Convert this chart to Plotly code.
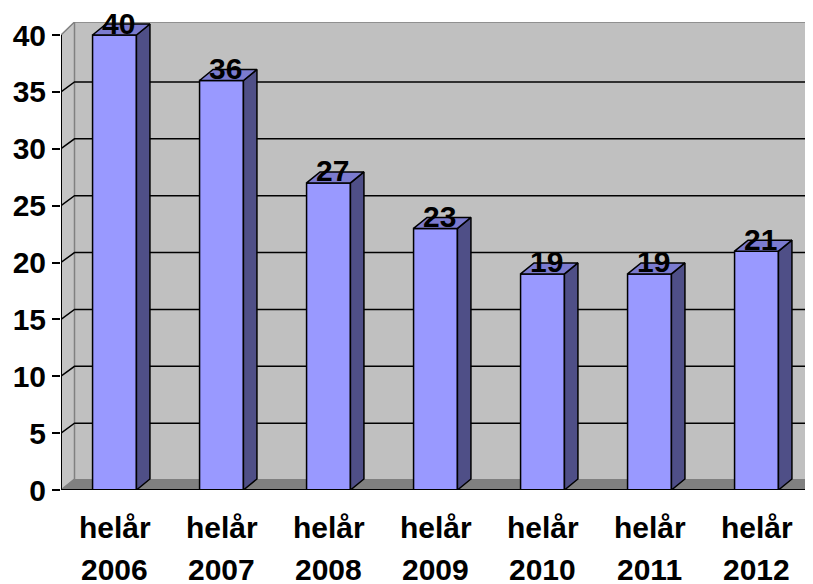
import plotly.graph_objects as go

categories = ["helår 2006", "helår 2007", "helår 2008", "helår 2009", "helår 2010", "helår 2011", "helår 2012"]
values = [40, 36, 27, 23, 19, 19, 21]
y_ticks = [0, 5, 10, 15, 20, 25, 30, 35, 40]

# page has an 8px body margin, so the figure is offset by 8px
W, H = 805, 586
L, T, B = 53, 14, 104
XPX = 107.0
YPX = 11.375
XMIN, XMAX = -0.5, -0.5 + (W - L) / XPX
YMAX = 40 + 13 / YPX
DX = 13.5 / XPX      # depth offset (x units)
DY = 11.0 / YPX      # depth offset (y units)
BW = 0.41            # bar width

FONT = "Arial, Liberation Sans, sans-serif"
FS = 30
n = len(values)
xs = list(range(n))

fig = go.Figure()

shapes = []
shapes.append(dict(type="rect", layer="below", x0=XMIN + DX, x1=XMAX, y0=DY, y1=YMAX,
                   fillcolor="#C0C0C0", line=dict(width=0)))
shapes.append(dict(type="path", layer="below",
                   path=f"M {XMIN},0 L {XMIN+DX},{DY} L {XMIN+DX},{YMAX} L {XMIN},40 Z",
                   fillcolor="#C4C4C4", line=dict(color="#808080", width=1.5)))
shapes.append(dict(type="path", layer="below",
                   path=f"M {XMIN},0 L {XMAX},0 L {XMAX},{DY} L {XMIN+DX},{DY} Z",
                   fillcolor="#808080", line=dict(width=0)))
shapes.append(dict(type="line", layer="below", x0=XMIN + DX, x1=XMAX, y0=YMAX, y1=YMAX,
                   line=dict(color="#808080", width=1.5)))
for v in y_ticks[1:-1]:
    shapes.append(dict(type="path", layer="below",
                       path=f"M {XMIN},{v} L {XMIN+DX},{v+DY*0.9} L {XMAX},{v+DY*0.9}",
                       line=dict(color="black", width=1.5)))
shapes.append(dict(type="line", layer="above", x0=XMIN, x1=XMIN, y0=0, y1=40,
                   line=dict(color="black", width=2)))
shapes.append(dict(type="line", layer="above", x0=XMIN, x1=XMAX, y0=0, y1=0,
                   line=dict(color="black", width=2)))
for k in range(n + 1):
    shapes.append(dict(type="line", layer="above", x0=k - 0.5, x1=k - 0.5,
                       ysizemode="pixel", yanchor=0, y0=0, y1=-8,
                       line=dict(color="black", width=2)))

fig.add_trace(go.Bar(x=xs, y=values, width=BW, marker=dict(color="#9999FF",
                     line=dict(color="black", width=1.5)), hoverinfo="skip"))

sx, sy, tx, ty = [], [], [], []
for i, v in zip(xs, values):
    r = i + BW / 2
    l = i - BW / 2
    sx += [r, r + DX, r + DX, r, r, None]
    sy += [0, DY, v + DY, v, 0, None]
    tx += [l, l + DX, r + DX, r, l, None]
    ty += [v, v + DY, v + DY, v, v, None]
fig.add_trace(go.Scatter(x=sx, y=sy, mode="lines", fill="toself", fillcolor="#4F4F87",
                         line=dict(color="black", width=1.5), hoverinfo="skip"))
fig.add_trace(go.Scatter(x=tx, y=ty, mode="lines", fill="toself", fillcolor="#7B7BCF",
                         line=dict(color="black", width=1.5), hoverinfo="skip"))

annotations = []
for i, v in zip(xs, values):
    annotations.append(dict(x=i + 0.04, y=v, xref="x", yref="y", text=f"<b>{v}</b>",
                            showarrow=False, yanchor="middle", yshift=12,
                            font=dict(family=FONT, size=FS, color="black")))
for i, c in zip(xs, categories):
    a, b = c.split(" ")
    annotations.append(dict(x=i, y=0, xref="x", yref="y", text=f"<b>{a}</b>",
                            showarrow=False, yanchor="middle", yshift=-37,
                            font=dict(family=FONT, size=FS, color="black")))
    annotations.append(dict(x=i, y=0, xref="x", yref="y", text=f"<b>{b}</b>",
                            showarrow=False, yanchor="middle", yshift=-79,
                            font=dict(family=FONT, size=FS, color="black")))

fig.update_layout(
    width=W, height=H,
    margin=dict(l=L, r=0, t=T, b=B, pad=0),
    paper_bgcolor="white", plot_bgcolor="white",
    showlegend=False,
    shapes=shapes, annotations=annotations,
    xaxis=dict(range=[XMIN, XMAX], showgrid=False, zeroline=False, showline=False,
               showticklabels=False, ticks=""),
    yaxis=dict(range=[0, YMAX], tickmode="array", tickvals=y_ticks,
               ticktext=[f"<b>{t}</b>" for t in y_ticks],
               showgrid=False, zeroline=False, showline=False,
               ticks="outside", ticklen=8, tickwidth=2, tickcolor="black",
               tickfont=dict(family=FONT, size=FS, color="black")),
)

fig.write_html("out.html")
